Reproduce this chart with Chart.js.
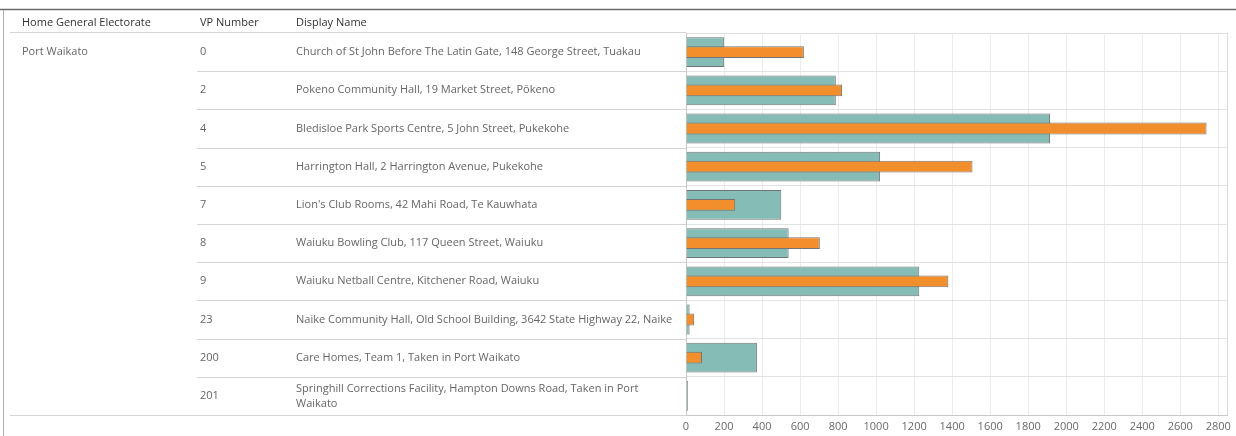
<!DOCTYPE html>
<html>
<head>
<meta charset="utf-8">
<script src="https://cdn.jsdelivr.net/npm/chart.js@4"></script>
<style>
    html, body { margin: 0; padding: 0; background: #fff; }
    #wrap { width: 1236px; height: 436px; position: relative; }
</style>
</head>
<body>
<div id="wrap"><canvas id="vpChart" width="1236" height="436"></canvas></div>
<script>
// ─── Data ────────────────────────────────────────────────────────────────
const electorates = ['Port Waikato'];
const vpNumbers = ['0', '2', '4', '5', '7', '8', '9', '23', '200', '201'];
const displayNames = [
    ['Church of St John Before The Latin Gate, 148 George Street, Tuakau'],
    ['Pokeno Community Hall, 19 Market Street, Pōkeno'],
    ['Bledisloe Park Sports Centre, 5 John Street, Pukekohe'],
    ['Harrington Hall, 2 Harrington Avenue, Pukekohe'],
    ['Lion\'s Club Rooms, 42 Mahi Road, Te Kauwhata'],
    ['Waiuku Bowling Club, 117 Queen Street, Waiuku'],
    ['Waiuku Netball Centre, Kitchener Road, Waiuku'],
    ['Naike Community Hall, Old School Building, 3642 State Highway 22, Naike'],
    ['Care Homes, Team 1, Taken in Port Waikato'],
    ['Springhill Corrections Facility, Hampton Downs Road, Taken in Port', 'Waikato']
];
const headers = ['Home General Electorate', 'VP Number', 'Display Name'];
const tealValues = [201, 788, 1915, 1021, 501, 540, 1227, 19, 373, 10];
const orangeValues = [620, 821, 2738, 1507, 259, 704, 1380, 43, 84, 0];
const xTicks = [0, 200, 400, 600, 800, 1000, 1200, 1400, 1600, 1800, 2000, 2200, 2400, 2600, 2800];
const axisMax = 2850;

const FONT = '"Open Sans", "DejaVu Sans", sans-serif';

// ─── Left-hand text table, aligned to the y scale ────────────────────────
const tablePlugin = {
    id: 'textTable',
    beforeDraw(chart) {
        const ctx = chart.ctx;
        const y = chart.scales.y;
        const area = chart.chartArea;
        const step = Math.abs(y.getPixelForValue(1) - y.getPixelForValue(0));
        ctx.save();

        // frame lines
        ctx.strokeStyle = '#6b6b6b';
        ctx.lineWidth = 1.5;
        ctx.beginPath(); ctx.moveTo(0, 9.5); ctx.lineTo(chart.width, 9.5); ctx.stroke();
        ctx.strokeStyle = '#b0b0b0';
        ctx.lineWidth = 1;
        ctx.beginPath(); ctx.moveTo(3.5, 10); ctx.lineTo(3.5, chart.height); ctx.stroke();

        // header
        ctx.font = '11px ' + FONT;
        ctx.fillStyle = '#333';
        ctx.textBaseline = 'middle';
        const colX = [22, 200, 296];
        headers.forEach((h, i) => ctx.fillText(h, colX[i], 23));
        ctx.strokeStyle = '#d4d4d4';
        ctx.beginPath(); ctx.moveTo(10, area.top - 0.5); ctx.lineTo(area.left, area.top - 0.5); ctx.stroke();

        // rows
        ctx.fillStyle = '#666';
        ctx.fillText(electorates[0], colX[0], y.getPixelForValue(0));
        vpNumbers.forEach((vp, i) => {
            const cy = y.getPixelForValue(i);
            ctx.fillText(vp, colX[1], cy);
            const lines = displayNames[i];
            lines.forEach((ln, j) => {
                ctx.fillText(ln, colX[2], cy + (j - (lines.length - 1) / 2) * 15);
            });
            const by = Math.round(cy + step / 2) + 0.5;
            ctx.beginPath();
            ctx.moveTo(i === vpNumbers.length - 1 ? 10 : 197, by);
            ctx.lineTo(area.left, by);
            ctx.stroke();
        });
        ctx.restore();
    },
    afterDatasetsDraw(chart) {
        // right edge of the plot frame
        const ctx = chart.ctx;
        const area = chart.chartArea;
        ctx.save();
        ctx.strokeStyle = '#dcdcdc';
        ctx.lineWidth = 1;
        ctx.beginPath();
        ctx.moveTo(Math.round(area.right) - 0.5, area.top);
        ctx.lineTo(Math.round(area.right) - 0.5, area.bottom);
        ctx.stroke();
        ctx.restore();
    }
};

// ─── Chart ───────────────────────────────────────────────────────────────
const ctx = document.getElementById('vpChart').getContext('2d');
new Chart(ctx, {
    type: 'bar',
    data: {
        labels: vpNumbers,
        datasets: [
            {
                label: 'Teal',
                data: tealValues,
                backgroundColor: '#86bcb6',
                borderColor: '#747474',
                borderWidth: 1,
                barPercentage: 0.78,
                categoryPercentage: 1,
                order: 1
            },
            {
                label: 'Orange',
                data: orangeValues,
                backgroundColor: '#f28e2b',
                borderColor: '#747474',
                borderWidth: 1,
                barPercentage: 0.31,
                categoryPercentage: 1,
                order: 0
            }
        ]
    },
    options: {
        indexAxis: 'y',
        responsive: false,
        animation: false,
        devicePixelRatio: 1,
        grouped: false,
        layout: { padding: { left: 686, top: 33, right: 6, bottom: 0 } },
        plugins: {
            legend: { display: false },
            tooltip: { enabled: false }
        },
        scales: {
            x: {
                min: 0,
                max: axisMax,
                afterBuildTicks: (scale) => { scale.ticks = xTicks.map(v => ({ value: v })); },
                afterFit: (scale) => { scale.height = 21; },
                grid: { color: '#ececec', drawTicks: false },
                border: { color: '#c8c8c8' },
                ticks: {
                    padding: 5,
                    color: '#6a6a6a',
                    font: { family: FONT, size: 11 },
                    maxRotation: 0,
                    autoSkip: false,
                    callback: (val) => String(val)
                }
            },
            y: {
                grid: { color: '#e2e2e2', drawTicks: false, offset: true },
                border: { color: '#c8c8c8' },
                ticks: { display: false }
            }
        }
    },
    plugins: [tablePlugin]
});
</script>
</body>
</html>
